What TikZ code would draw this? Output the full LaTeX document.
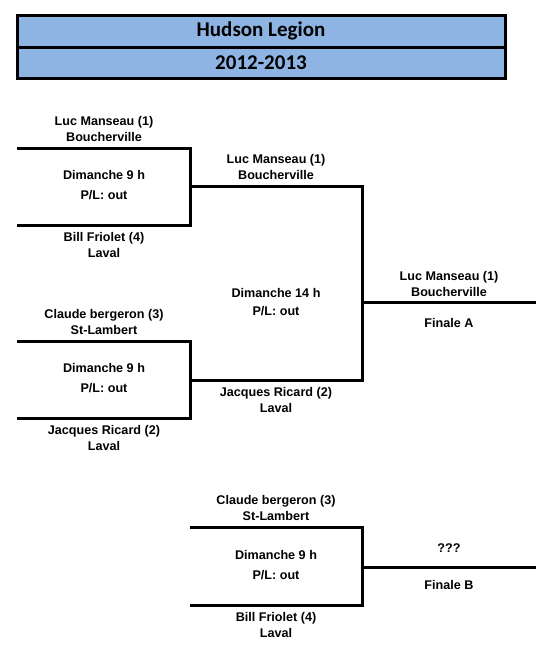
\documentclass[tikz,border=0pt]{standalone}
\usepackage{fontspec}
\setmainfont{Liberation Sans}
\newfontfamily\titlefont{Carlito}
\definecolor{titleblue}{HTML}{8DB4E2}

\tikzset{
  title/.style={font=\titlefont\bfseries\fontsize{21}{24}\selectfont, inner sep=0pt},
  player/.style={font=\bfseries\fontsize{12.6}{16}\selectfont, align=center, inner sep=0pt},
  bracket/.style={line width=3pt}
}

\begin{document}
\begin{tikzpicture}[x=1pt,y=-1pt]
            \useasboundingbox (0,0) rectangle (555,657);

            % Titre
            \filldraw[fill=titleblue, draw=black, line width=3pt] (17,15) rectangle (505,47);
            \filldraw[fill=titleblue, draw=black, line width=3pt] (17,47) rectangle (505,78);
            \node[title] (titre) at (261,31) {Hudson Legion};
            \node[title] (saison) at (261,63) {2012-2013};

            % Coins du tableau
            \coordinate (a1h) at (17,148);
            \coordinate (a1b) at (17,225);
            \coordinate (a1s) at (190,186);
            \coordinate (a2h) at (17,341);
            \coordinate (a2b) at (17,418);
            \coordinate (a2s) at (190,380);
            \coordinate (fas) at (362,302);
            \coordinate (fae) at (536,302);
            \coordinate (bh) at (190,527);
            \coordinate (bb) at (190,605);
            \coordinate (bs) at (362,567);
            \coordinate (be) at (536,567);

            % Premier match
            \draw[bracket] (a1h) -| (a1b -| a1s) -- (a1b);
            \node[player] (luc1) at (104,129) {Luc Manseau (1)\\Boucherville};
            \node[player] (match1) at (104,185) {Dimanche 9 h\\[4pt]P/L: out};
            \node[player] (bill1) at (104,245) {Bill Friolet (4)\\Laval};

            % Deuxieme match
            \draw[bracket] (a2h) -| (a2b -| a2s) -- (a2b);
            \node[player] (claude1) at (104,322) {Claude bergeron (3)\\St-Lambert};
            \node[player] (match2) at (104,378) {Dimanche 9 h\\[4pt]P/L: out};
            \node[player] (jacques1) at (104,438) {Jacques Ricard (2)\\Laval};

            % Demi-finale
            \draw[bracket] (a1s) -| (a2s -| fas) -- (a2s);
            \node[player] (luc2) at (276,167) {Luc Manseau (1)\\Boucherville};
            \node[player] (match3) at (276,302) {Dimanche 14 h\\[2pt]P/L: out};
            \node[player] (jacques2) at (276,399.5) {Jacques Ricard (2)\\Laval};

            % Finale A
            \draw[bracket] (fas) -- (fae);
            \node[player] (luc3) at (449,283.5) {Luc Manseau (1)\\Boucherville};
            \node[player] (finalea) at (449,323) {Finale A};

            % Finale B
            \draw[bracket] (bh) -| (bb -| bs) -- (bb);
            \draw[bracket] (bs) -- (be);
            \node[player] (claude2) at (276,508) {Claude bergeron (3)\\St-Lambert};
            \node[player] (match4) at (276,565) {Dimanche 9 h\\[4pt]P/L: out};
            \node[player] (bill2) at (276,625) {Bill Friolet (4)\\Laval};
            \node[player] (inconnu) at (449,548) {???};
            \node[player] (finaleb) at (449,585) {Finale B};

        \end{tikzpicture}
\end{document}
